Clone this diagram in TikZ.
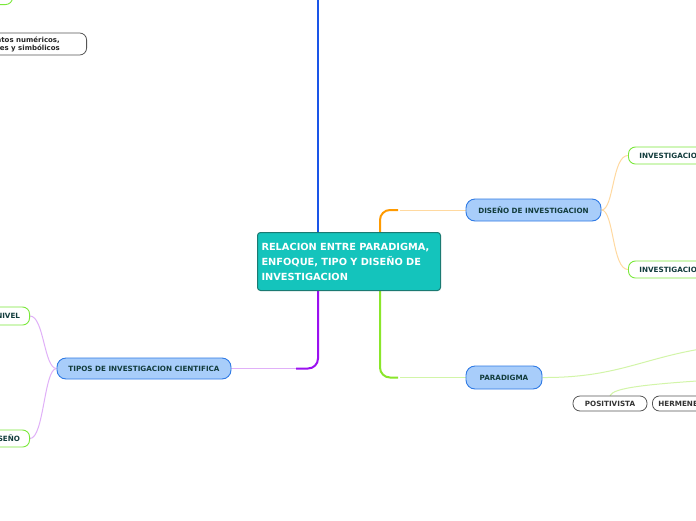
\documentclass[tikz,border=0pt]{standalone}
\usepackage{fontspec}
\setmainfont{DejaVu Sans}
\definecolor{rootfill}{HTML}{14C4BC}
\definecolor{rootdraw}{HTML}{1B7A72}
\definecolor{bluefill}{HTML}{A8CDFA}
\definecolor{bluedraw}{HTML}{2F7AE5}
\definecolor{txtdark}{HTML}{123C3C}
\definecolor{greendraw}{HTML}{7AE83A}
\definecolor{graydraw}{HTML}{555555}
\definecolor{lorange}{HTML}{FFD9A0}
\definecolor{sorange}{HTML}{FF9A00}
\definecolor{lpurple}{HTML}{E0B0F8}
\definecolor{spurple}{HTML}{9B10F0}
\definecolor{lgreen}{HTML}{D2F5A8}
\definecolor{sgreen}{HTML}{8AE62A}
\definecolor{sblue}{HTML}{1A55E8}
\pgfdeclarelayer{bottom}
\pgfdeclarelayer{background}
\pgfsetlayers{bottom,background,main}
\tikzset{
  rootbox/.style={rectangle, rounded corners=3pt, fill=rootfill, draw=rootdraw, line width=1pt,
    text=white, font=\bfseries\fontsize{9.8}{15}\selectfont, align=left, text width=175pt,
    minimum width=183pt, minimum height=58pt, inner sep=4pt},
  mainbox/.style={rectangle, rounded corners=9pt, fill=bluefill, draw=bluedraw, line width=0.9pt,
    text=txtdark, font=\bfseries\fontsize{7.2}{8}\selectfont, inner sep=0pt},
  subbox/.style={rectangle, rounded corners=7pt, fill=white, draw=greendraw, line width=0.9pt,
    text=txtdark, font=\bfseries\fontsize{7.2}{8}\selectfont, inner sep=0pt},
  leafbox/.style={rectangle, rounded corners=7pt, fill=white, draw=graydraw, line width=0.8pt,
    text=black!80, font=\bfseries\fontsize{7.2}{8}\selectfont, inner sep=0pt},
  plaintext/.style={text=black!85, font=\bfseries\fontsize{7}{8}\selectfont, align=right, inner sep=0pt},
  thickline/.style={line width=2pt, rounded corners=10pt},
  thinline/.style={line width=1pt},
}
\begin{document}
\begin{tikzpicture}[x=1pt,y=1pt]
\useasboundingbox (0,0) rectangle (696,-520);
\begin{pgfonlayer}{bottom}
\fill[white] (0,0) rectangle (696,-520);
\end{pgfonlayer}

\coordinate (topend) at (318,0);
\coordinate (purpx) at (318,0);
\coordinate (orx) at (380,0);
\coordinate (paraend) at (745,-344);
\coordinate (posend) at (745,-378);

% nodes
\node[rootbox, anchor=north west] (root) at (257,-232) {RELACION ENTRE PARADIGMA,\\ENFOQUE, TIPO Y DISEÑO DE\\INVESTIGACION};

\node[mainbox, minimum width=174pt, minimum height=21pt] (tipos) at (144,-368.5) {TIPOS DE INVESTIGACION CIENTIFICA};
\node[mainbox, minimum width=135pt, minimum height=22pt] (diseno) at (533.5,-210) {DISEÑO DE INVESTIGACION};
\node[mainbox, minimum width=76pt, minimum height=23pt] (paradigma) at (504,-377.5) {PARADIGMA};

\node[subbox, anchor=west, minimum width=120pt, minimum height=17pt, text width=98pt, align=left] (invtop) at (628,-155.5) {INVESTIGACION};
\node[subbox, anchor=west, minimum width=120pt, minimum height=17pt, text width=98pt, align=left] (invbot) at (628,-269.5) {INVESTIGACION};
\node[subbox, anchor=east, minimum width=80pt, minimum height=18pt, text width=61pt, align=right] (nivel) at (30,-316) {NIVEL};
\node[subbox, anchor=east, minimum width=80pt, minimum height=17pt, text width=61pt, align=right] (disleft) at (30,-438.5) {SEÑO};
\node[subbox, anchor=south east, minimum width=70pt, minimum height=20pt] (topgreen) at (13,-5) {};

\node[leafbox, minimum width=74pt, minimum height=15pt] (posit) at (610,-403.5) {POSITIVISTA};
\node[leafbox, anchor=west, minimum width=100pt, minimum height=15pt, text width=88pt, align=left] (herm) at (652,-403.5) {HERMENEUTICO};

\node[leafbox, anchor=east, minimum width=160pt, minimum height=22pt] (datosbox) at (87,-44) {};
\node[plaintext, anchor=east] (datostxt) at (60,-44) {datos numéricos,\\verbales y simbólicos};

\begin{pgfonlayer}{background}
% blue
\draw[line width=2pt, sblue] (topend |- root.north) -- (topend);
% purple
\draw[thinline, lpurple] (300,-368.5) -- (tipos.east);
\draw[thickline, spurple] (purpx |- root.south) -- (purpx |- tipos.east) -- (296,-368.5);
% orange
\draw[thinline, lorange] (400,-210) -- (diseno.west);
\draw[thickline, sorange] (orx |- root.north) -- (orx |- diseno.west) -- (398,-210);
% green
\draw[thinline, lgreen] (400,-377.5) -- (paradigma.west);
\draw[thickline, sgreen] (orx |- root.south) -- (orx |- paradigma.west) -- (398,-377.5);

% thin curved connectors
\draw[thinline, lpurple] (tipos.west) .. controls (44,-368.5) and (44,-316) .. (nivel.east);
\draw[thinline, lpurple] (tipos.west) .. controls (44,-368.5) and (44,-438.5) .. (disleft.east);
\draw[thinline, lorange] (diseno.east) .. controls (614,-210) and (612,-155.5) .. (invtop.west);
\draw[thinline, lorange] (diseno.east) .. controls (614,-210) and (612,-269.5) .. (invbot.west);
\draw[thinline, lgreen] (paradigma.east) .. controls (630,-378) and (650,-350) .. (paraend);
\draw[thinline, lgreen] (posit.north) .. controls (614,-388) and (640,-384) .. (posend);
\end{pgfonlayer}
\end{tikzpicture}
\end{document}
